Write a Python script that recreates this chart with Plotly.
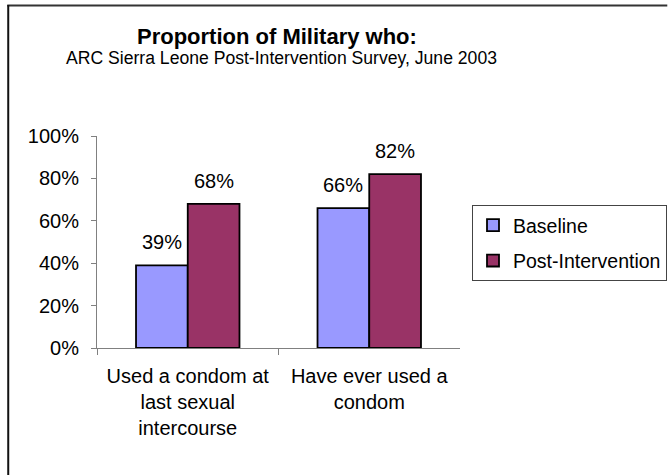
import plotly.graph_objects as go

categories = ["Used a condom at<br>last sexual<br>intercourse", "Have ever used a<br>condom"]
baseline = [0.39, 0.66]
post = [0.68, 0.82]
series_names = ["Baseline", "Post-Intervention"]
colors = ["#9999FF", "#993366"]
title = "Proportion of Military who:"
subtitle = "ARC Sierra Leone Post-Intervention Survey, June 2003"

W, H = 670, 475
L, R, T, B = 97, 463, 136, 348  # plot area in pixels
PW, PH = R - L, B - T

def px(x):
    return (x - L) / PW

def py(y):
    return (B - y) / PH

FONT = "Liberation Sans, Arial, Helvetica, sans-serif"

fig = go.Figure()
for name, vals, col in zip(series_names, [baseline, post], colors):
    fig.add_trace(go.Bar(
        x=categories, y=vals, name=name, legendgroup=name,
        marker=dict(color=col, line=dict(color="black", width=1.8)),
    ))

annotations = []
shift = 0.57 / 2 / 2 * (PW / 2)
for k, vals in enumerate([baseline, post]):
    for c, v in zip(categories, vals):
        annotations.append(dict(
            x=c, y=v, xref="x", yref="y", text=f"{round(v*100)}%",
            showarrow=False, xshift=(-shift if k == 0 else shift), yshift=23,
            yanchor="middle", font=dict(size=20, color="black", family=FONT)))

annotations.append(dict(x=px(278), y=py(36), xref="paper", yref="paper", text=f"<b>{title}</b>",
                        showarrow=False, xanchor="center", yanchor="middle",
                        font=dict(size=22, color="black", family=FONT)))
annotations.append(dict(x=px(283), y=py(58), xref="paper", yref="paper", text=subtitle,
                        showarrow=False, xanchor="center", yanchor="middle",
                        font=dict(size=17.6, color="black", family=FONT)))

shapes = [
    dict(type="line", xref="paper", yref="paper", x0=px(6.5), x1=px(672), y0=py(5.5), y1=py(5.5),
         line=dict(color="#333333", width=2)),
    dict(type="line", xref="paper", yref="paper", x0=px(7.5), x1=px(7.5), y0=py(5), y1=py(480),
         line=dict(color="#111111", width=2)),
]

fig.update_layout(
    width=W, height=H,
    margin=dict(l=L, r=W - R, t=T, b=H - B, pad=0),
    paper_bgcolor="white", plot_bgcolor="white",
    barmode="group", bargap=0.43, bargroupgap=0,
    font=dict(family=FONT, size=20, color="black"),
    showlegend=True,
    legend=dict(xref="container", yref="container", x=472 / W, y=1 - 205 / H,
                xanchor="left", yanchor="top",
                bordercolor="#444444", borderwidth=1, bgcolor="white",
                font=dict(size=19.5, family=FONT, color="black"),
                tracegroupgap=7, traceorder="grouped"),
    annotations=annotations,
    shapes=shapes,
)
fig.update_yaxes(range=[0, 1], tickmode="array", tickvals=[0, 0.2, 0.4, 0.6, 0.8, 1.0],
                 tickformat=".0%", ticks="outside", ticklen=5, tickcolor="#808080",
                 showline=True, linecolor="#808080", linewidth=1, showgrid=False,
                 zeroline=False, tickfont=dict(size=20, family=FONT, color="black"),
                 ticklabelstandoff=8)
fig.update_xaxes(type="category", tickson="boundaries", ticks="outside", ticklen=6,
                 tickcolor="#808080", showline=True, linecolor="#808080", linewidth=1,
                 showgrid=False, tickfont=dict(size=20, family=FONT, color="black"),
                 ticklabelstandoff=10)

fig.write_html("out.html")
